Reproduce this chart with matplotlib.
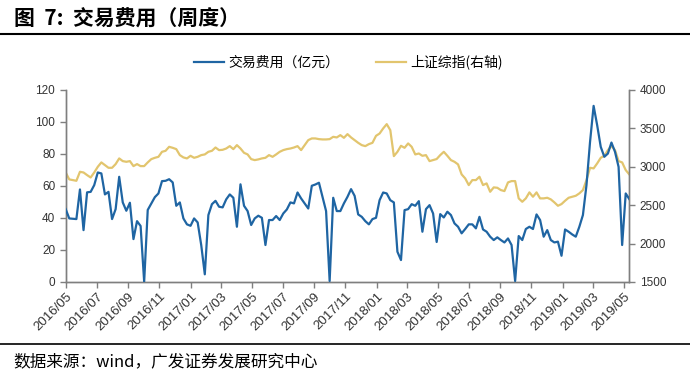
import matplotlib
matplotlib.use('Agg')
import matplotlib.pyplot as plt
import matplotlib.dates as mdates
from matplotlib.lines import Line2D
import pandas as pd

plt.rcParams['font.family'] = ['Noto Sans CJK SC', 'DejaVu Sans']

# 周度数据：2016/05 起
dates = pd.date_range('2016-05-01', periods=159, freq='7D')

# 交易费用（亿元）
fee = [
    45.5, 39.7, 39.5, 39.3, 57.8, 32.4, 56.0, 56.3, 60.5, 68.4,
    67.8, 54.7, 56.3, 39.3, 45.5, 65.7, 49.7, 44.5, 49.5, 26.8,
    38.0, 35.0, 0.2, 45.0, 49.0, 53.0, 55.3, 63.0, 63.2, 64.2,
    62.2, 47.6, 49.7, 39.7, 36.0, 35.1, 39.7, 37.2, 23.0, 4.8,
    41.8, 48.6, 50.7, 47.0, 46.6, 51.6, 54.7, 52.6, 34.5, 61.0,
    47.6, 44.3, 35.6, 39.7, 41.4, 40.1, 23.1, 38.7, 38.7, 41.2,
    38.7, 42.8, 45.3, 49.7, 49.1, 55.9, 52.2, 49.1, 45.9, 60.1,
    60.9, 62.0, 53.2, 44.3, 0.6, 52.6, 44.3, 44.3, 49.1, 53.2,
    58.0, 53.8, 42.2, 40.7, 38.0, 36.0, 39.3, 40.1, 51.1, 55.9,
    55.3, 51.1, 49.7, 18.9, 13.7, 44.9, 45.5, 48.6, 47.6, 50.5,
    31.4, 45.5, 48.0, 42.8, 25.0, 42.4, 40.3, 43.9, 41.8, 36.6,
    34.5, 30.4, 33.1, 36.0, 36.0, 33.5, 40.7, 32.8, 31.4, 28.3,
    26.2, 27.9, 26.2, 24.7, 27.2, 23.1, 0.6, 28.7, 26.2, 33.1,
    34.5, 33.1, 42.2, 38.7, 28.3, 32.4, 26.2, 24.7, 25.2, 16.4,
    32.8, 31.4, 29.7, 28.3, 34.5, 41.8, 60.5, 87.5, 110.0, 97.9,
    84.4, 78.2, 80.2, 87.1, 81.3, 71.9, 23.1, 55.3, 51.8,
]

# 上证综指（右轴）
sh_index = [
    2925, 2835, 2826, 2817, 2934, 2925, 2891, 2860, 2925, 2999,
    3056, 3021, 2986, 2986, 3034, 3108, 3073, 3064, 3073, 3008,
    3034, 3008, 3008, 3056, 3099, 3116, 3129, 3194, 3207, 3259,
    3246, 3229, 3151, 3121, 3108, 3142, 3116, 3129, 3151, 3160,
    3194, 3207, 3250, 3216, 3220, 3237, 3268, 3229, 3281, 3237,
    3181, 3160, 3099, 3086, 3095, 3108, 3116, 3151, 3129, 3160,
    3194, 3216, 3229, 3237, 3250, 3268, 3216, 3281, 3346, 3368,
    3368, 3359, 3355, 3355, 3359, 3389, 3381, 3411, 3376, 3424,
    3381, 3346, 3311, 3281, 3268, 3294, 3311, 3402, 3432, 3498,
    3554, 3476, 3138, 3194, 3272, 3246, 3303, 3259, 3160, 3172,
    3142, 3151, 3073, 3086, 3100, 3151, 3194, 3142, 3086, 3064,
    3030, 2900, 2848, 2761, 2826, 2826, 2869, 2761, 2783, 2674,
    2731, 2726, 2696, 2683, 2796, 2813, 2813, 2588, 2544, 2588,
    2666, 2609, 2666, 2588, 2588, 2596, 2575, 2536, 2492, 2514,
    2557, 2596, 2609, 2622, 2653, 2696, 2826, 2986, 2978, 3043,
    3116, 3142, 3216, 3268, 3216, 3073, 3056, 2956, 2900,
]

fee_label = '交易费用（亿元）'
index_label = '上证综指(右轴)'
title = '图  7:  交易费用（周度）'
source = '数据来源：wind，广发证券发展研究中心'

blue = '#1f65a3'
gold = '#e2c56e'
axis_gray = '#7f7f7f'
tick_color = '#333333'

fig = plt.figure(figsize=(6.9, 3.76), dpi=100)
ax = fig.add_axes([0.0952, 0.25, 0.8168, 0.511])
ax2 = ax.twinx()

l1, = ax.plot(dates, fee, color=blue, lw=1.6, label=fee_label, zorder=3)
l2, = ax2.plot(dates, sh_index, color=gold, lw=1.6, label=index_label, zorder=2)
ax.set_zorder(ax2.get_zorder() + 1)
ax.patch.set_visible(False)

ax.set_ylim(0, 120)
ax.set_yticks(range(0, 121, 20))
ax2.set_ylim(1500, 4000)
ax2.set_yticks(range(1500, 4001, 500))
ax.set_xlim(dates[0], dates[-1])

ax.xaxis.set_major_locator(mdates.MonthLocator(bymonth=[1, 3, 5, 7, 9, 11]))
ax.xaxis.set_major_formatter(mdates.DateFormatter('%Y/%m'))

for a in (ax, ax2):
    a.spines['top'].set_visible(False)
    for s in ('left', 'right', 'bottom'):
        a.spines[s].set_color(axis_gray)
        a.spines[s].set_linewidth(1.0)
    a.tick_params(colors=axis_gray, labelcolor=tick_color, length=4, width=1.0,
                  labelsize=8.5)
    for lab in a.get_yticklabels():
        lab.set_family(['Liberation Sans', 'DejaVu Sans'])

ax.tick_params(axis='x', pad=2, labelsize=9.5)
for lab in ax.get_xticklabels():
    lab.set_rotation(45)
    lab.set_ha('right')
    lab.set_rotation_mode('anchor')
    lab.set_family(['Liberation Sans', 'DejaVu Sans'])

fig.legend(handles=[l1, l2], loc='center', bbox_to_anchor=(0.505, 0.835),
           ncol=2, frameon=False, fontsize=10, handlelength=2.2,
           columnspacing=2.6, handletextpad=0.3)

fig.text(0.02, 0.948, title, fontsize=15, fontweight='bold', va='center', ha='left')
fig.add_artist(Line2D([0, 1], [0.9096, 0.9096], transform=fig.transFigure,
                      color='black', lw=1.5))
fig.add_artist(Line2D([0, 1], [0.0851, 0.0851], transform=fig.transFigure,
                      color='black', lw=1.2))
fig.text(0.019, 0.038, source, fontsize=12, va='center', ha='left')

fig.savefig('out.png', dpi=100)
